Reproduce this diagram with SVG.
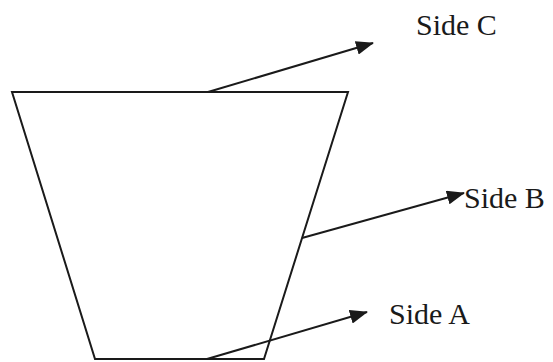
<svg xmlns="http://www.w3.org/2000/svg" width="553" height="362" viewBox="0 0 553 362">
  <style>
    .shape { fill: none; stroke: #1a1a1a; stroke-width: 2; stroke-linejoin: miter; }
    .conn { fill: none; stroke: #1a1a1a; stroke-width: 2; }
    .label { font-family: "Liberation Serif", "Times New Roman", serif; font-size: 30px; fill: #1a1a1a; }
  </style>
  <defs>
    <marker id="arrow" viewBox="0 0 18 14" refX="17" refY="7" markerWidth="18" markerHeight="14" markerUnits="userSpaceOnUse" orient="auto">
      <path d="M0,0 L18,7 L0,14 Z" fill="#1a1a1a"/>
    </marker>
  </defs>
  <rect width="553" height="362" fill="#ffffff"/>
  <g id="trapezoid">
    <polygon class="shape" points="12,92 348,92 264,359 95,359"/>
  </g>
  <g id="label-side-c">
    <text class="label" x="416" y="35">Side C</text>
  </g>
  <g id="label-side-b">
    <text class="label" x="464" y="208">Side B</text>
  </g>
  <g id="label-side-a">
    <text class="label" x="389" y="324">Side A</text>
  </g>
  <g id="connectors">
    <line class="conn" x1="208" y1="92" x2="373" y2="43" marker-end="url(#arrow)"/>
    <line class="conn" x1="302" y1="238" x2="464" y2="193" marker-end="url(#arrow)"/>
    <line class="conn" x1="207" y1="359" x2="367" y2="312" marker-end="url(#arrow)"/>
  </g>
</svg>
